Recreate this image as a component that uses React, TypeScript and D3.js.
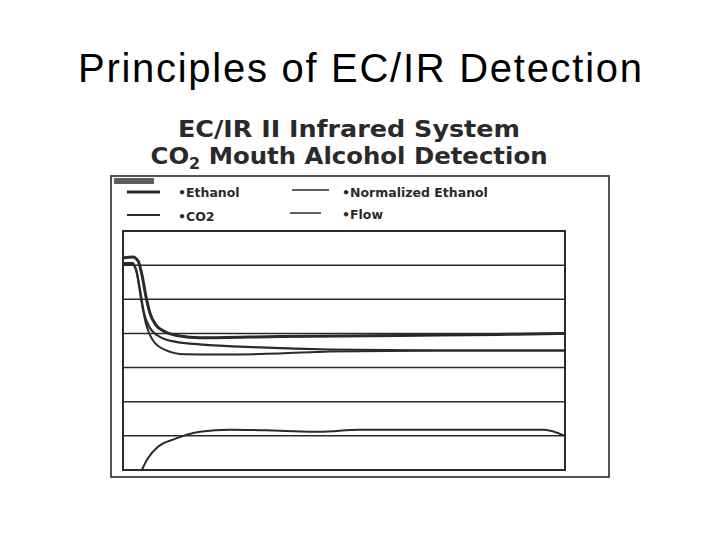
import * as d3 from "d3"

// time (s) / signal values (grid unit = 1)
const co2T = [0, 2.7, 4.1, 5.1, 6.2, 7.3, 8.9, 11.4, 15, 20.9, 42.5, 75, 102.1, 120]
const co2V = [6.21, 6.24, 6.12, 5.74, 5.1, 4.6, 4.25, 4.05, 3.93, 3.87, 3.91, 3.94, 3.97, 4.0]

const ethanolT = [0, 2.4, 3.5, 4.6, 5.7, 7.0, 10, 14.1, 20.9, 37.1, 56.1, 88.6, 120]
const ethanolV = [6.03, 6.03, 5.88, 5.29, 4.6, 4.22, 3.9, 3.76, 3.68, 3.59, 3.53, 3.5, 3.5]

const normT = [0, 2.7, 3.8, 4.9, 6.2, 8.1, 11.4, 16.8, 26.3, 42.5, 56.1, 88.6, 120]
const normV = [6.06, 6.06, 5.74, 5.0, 4.3, 3.8, 3.52, 3.39, 3.38, 3.41, 3.47, 3.5, 3.5]

const flowT = [5.1, 6.8, 9.5, 14.1, 20.9, 29, 42.5, 53.4, 64.2, 75, 102.1, 114.3, 120]
const flowV = [0, 0.35, 0.68, 0.91, 1.12, 1.18, 1.15, 1.12, 1.18, 1.18, 1.18, 1.18, 1.0]

const gridValues = [1, 2, 3, 4, 5, 6]

const legendLabels = ["•Ethanol", "•Normalized Ethanol", "•CO2", "•Flow"]

const ink = "#2a2a2a"

export default function App() {
  const width = 720
  const height = 540
  const plot = { left: 123, right: 565, top: 231, bottom: 470 }

  const x = d3.scaleLinear().domain([0, 120]).range([plot.left, plot.right])
  const y = d3.scaleLinear().domain([0, 7]).range([plot.bottom, plot.top])

  const line = d3
    .line<[number, number]>()
    .x((d) => x(d[0]))
    .y((d) => y(d[1]))
    .curve(d3.curveMonotoneX)

  const zip = (t: number[], v: number[]) => t.map((d, i) => [d, v[i]] as [number, number])

  const series = [
    { pts: zip(normT, normV), w: 2 },
    { pts: zip(ethanolT, ethanolV), w: 2.2 },
    { pts: zip(co2T, co2V), w: 3 },
    { pts: zip(flowT, flowV), w: 2 },
  ]

  const legend = [
    { lx: 127, lw: 33, ly: 192, tx: 178, ty: 197, w: 3 },
    { lx: 292, lw: 37, ly: 190, tx: 342, ty: 197, w: 1.5 },
    { lx: 127, lw: 33, ly: 215, tx: 178, ty: 221, w: 2 },
    { lx: 290, lw: 31, ly: 213, tx: 342, ty: 219, w: 1.5 },
  ]

  return (
    <svg
      width={width}
      height={height}
      style={{ position: "absolute", left: 0, top: 0, background: "#fff" }}
    >
      <text
        x={360}
        y={82}
        textAnchor="middle"
        fontFamily="Liberation Sans, Arial, sans-serif"
        fontSize={40}
        textLength={564}
        fill="#000"
      >
        Principles of EC/IR Detection
      </text>

      <text
        x={349}
        y={137}
        textAnchor="middle"
        fontFamily="DejaVu Sans, Verdana, sans-serif"
        fontWeight="bold"
        fontSize={23}
        textLength={342}
        lengthAdjust="spacingAndGlyphs"
        fill={ink}
      >
        EC/IR II Infrared System
      </text>
      <text
        x={349}
        y={164}
        textAnchor="middle"
        fontFamily="DejaVu Sans, Verdana, sans-serif"
        fontWeight="bold"
        fontSize={23}
        textLength={397}
        lengthAdjust="spacingAndGlyphs"
        fill={ink}
      >
        CO<tspan fontSize={15} dy={5}>2</tspan>
        <tspan dy={-5}> Mouth Alcohol Detection</tspan>
      </text>

      {/* outer frame */}
      <rect x={111} y={176} width={498} height={301} fill="none" stroke={ink} strokeWidth={1.6} />
      <rect x={114} y={178} width={40} height={6} fill={ink} opacity={0.75} />

      {/* legend */}
      {legend.map((l, i) => (
        <g key={i}>
          <line x1={l.lx} x2={l.lx + l.lw} y1={l.ly} y2={l.ly} stroke={ink} strokeWidth={l.w} />
          <text
            x={l.tx}
            y={l.ty}
            fontFamily="DejaVu Sans, Verdana, sans-serif"
            fontWeight="bold"
            fontSize={12.5}
            fill={ink}
          >
            {legendLabels[i]}
          </text>
        </g>
      ))}

      {/* inner plot */}
      {gridValues.map((g) => (
        <line
          key={g}
          x1={plot.left}
          x2={plot.right}
          y1={y(g)}
          y2={y(g)}
          stroke={ink}
          strokeWidth={1.5}
        />
      ))}
      <rect
        x={plot.left}
        y={plot.top}
        width={plot.right - plot.left}
        height={plot.bottom - plot.top}
        fill="none"
        stroke={ink}
        strokeWidth={2}
      />

      {series.map((s, i) => (
        <path key={i} d={line(s.pts) ?? ""} fill="none" stroke={ink} strokeWidth={s.w} />
      ))}
    </svg>
  )
}
